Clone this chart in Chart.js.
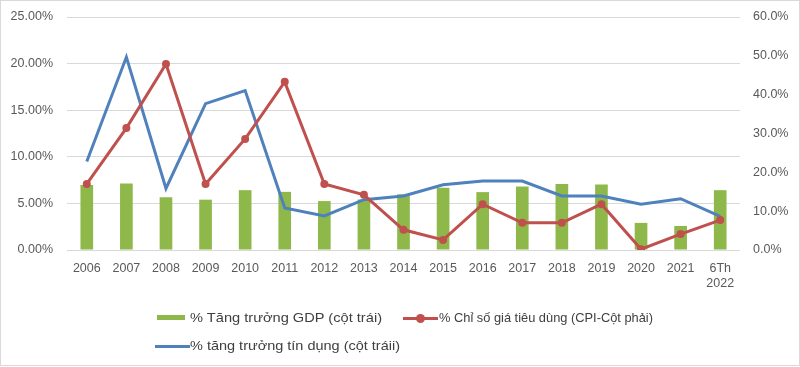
<!DOCTYPE html>
<html>
<head>
<meta charset="utf-8">
<script src="https://cdn.jsdelivr.net/npm/chart.js@4"></script>
<style>
  html, body { margin: 0; padding: 0; background: #fff; }
  #wrap { position: relative; width: 800px; height: 367px; overflow: hidden; background: #fff; }
  #frame { position: absolute; left: 0; top: 0; width: 800px; height: 366px; box-sizing: border-box; border: 1px solid #d9d9d9; pointer-events: none; }
  canvas { position: absolute; left: 0; top: 0; }
  .lg { position: absolute; font-family: "Liberation Sans", Arial, sans-serif; font-size: 13px; color: #404040; white-space: nowrap; line-height: 16px; transform-origin: left center; }
  .sw { position: absolute; }
</style>
</head>
<body>
<div id="wrap">
  <canvas id="c" width="800" height="367"></canvas>
  <div class="sw" style="left:157px;top:315px;width:28px;height:5px;background:#8FB84A"></div>
  <div class="lg" id="t1" data-w="192" style="left:190px;top:310px"></div>
  <div class="sw" style="left:403px;top:317px;width:35px;height:3px;background:#C0504D"></div>
  <div class="sw" style="left:416px;top:314px;width:9px;height:9px;border-radius:50%;background:#C0504D"></div>
  <div class="lg" id="t2" data-w="214" style="left:439px;top:310px"></div>
  <div class="sw" style="left:155px;top:345px;width:35px;height:3px;background:#4F81BD"></div>
  <div class="lg" id="t3" data-w="210" style="left:190px;top:338px"></div>
  <div id="frame"></div>
</div>
<script>
const categories = ['2006','2007','2008','2009','2010','2011','2012','2013','2014','2015','2016','2017','2018','2019','2020','2021',['6Th','2022']];
const gdpGrowth = [6.98, 7.13, 5.66, 5.40, 6.42, 6.24, 5.25, 5.42, 5.98, 6.68, 6.21, 6.81, 7.08, 7.02, 2.91, 2.58, 6.42];
const cpiIndex = [17.0, 31.4, 47.9, 17.0, 28.6, 43.3, 17.0, 14.2, 5.2, 2.6, 11.8, 7.0, 7.0, 11.8, 0.2, 4.1, 7.7];
const creditGrowth = [9.5, 20.7, 6.6, 15.7, 17.1, 4.5, 3.65, 5.4, 5.8, 7.0, 7.4, 7.4, 5.8, 5.8, 4.9, 5.5, 3.6];
const leftTicks = [0, 5, 10, 15, 20, 25];
const rightTicks = [0, 10, 20, 30, 40, 50, 60];
const legendLabels = ['% Tăng trưởng GDP (cột trái)', '% Chỉ số giá tiêu dùng (CPI-Cột phải)', '% tăng trưởng tín dụng (cột tráii)'];

const GREEN = '#8FB84A', RED = '#C0504D', BLUE = '#4F81BD';
const tickFont = { family: '"Liberation Sans", Arial, sans-serif', size: 12.5 };
const tickColor = '#595959';

new Chart(document.getElementById('c'), {
  data: {
    labels: categories,
    datasets: [
      { type: 'line', label: legendLabels[1], data: cpiIndex, yAxisID: 'yR', borderColor: RED, backgroundColor: RED,
        borderWidth: 3, pointRadius: 4, pointBorderWidth: 0, pointBackgroundColor: RED, tension: 0, order: 1 },
      { type: 'line', label: legendLabels[2], data: creditGrowth, yAxisID: 'yL', borderColor: BLUE, backgroundColor: BLUE,
        borderWidth: 3, pointRadius: 0, tension: 0, order: 2 },
      { type: 'bar', label: legendLabels[0], data: gdpGrowth, yAxisID: 'yL', backgroundColor: GREEN,
        categoryPercentage: 1, barPercentage: 0.32, order: 3 }
    ]
  },
  options: {
    responsive: false,
    animation: false,
    events: [],
    layout: { padding: { left: 0, right: 0, top: 17, bottom: 0 } },
    plugins: { legend: { display: false }, tooltip: { enabled: false } },
    scales: {
      x: {
        grid: { display: false, drawTicks: false },
        border: { display: false },
        ticks: { color: tickColor, font: tickFont, padding: 11, maxRotation: 0, autoSkip: false },
        afterFit: s => { s.height = 117; s.paddingLeft = 0; s.paddingRight = 0; }
      },
      yL: {
        position: 'left', min: 0, max: 25,
        afterBuildTicks: s => { s.ticks = leftTicks.map(v => ({ value: v })); },
        grid: { color: '#d9d9d9', lineWidth: 1, drawTicks: false },
        border: { display: false },
        ticks: { color: tickColor, font: tickFont, padding: 14, callback: v => v.toFixed(2) + '%' },
        afterFit: s => { s.width = 67; s.paddingTop = 0; s.paddingBottom = 0; }
      },
      yR: {
        position: 'right', min: 0, max: 60,
        afterBuildTicks: s => { s.ticks = rightTicks.map(v => ({ value: v })); },
        grid: { display: false, drawTicks: false },
        border: { display: false },
        ticks: { color: tickColor, font: tickFont, padding: 13, callback: v => v.toFixed(1) + '%' },
        afterFit: s => { s.width = 60; s.paddingTop = 0; s.paddingBottom = 0; }
      }
    }
  }
});

['t1','t2','t3'].forEach((id, i) => {
  const el = document.getElementById(id);
  el.textContent = legendLabels[i];
  const target = +el.dataset.w;
  const w = el.getBoundingClientRect().width;
  el.style.transform = 'scaleX(' + (target / w) + ')';
});
</script>
</body>
</html>
